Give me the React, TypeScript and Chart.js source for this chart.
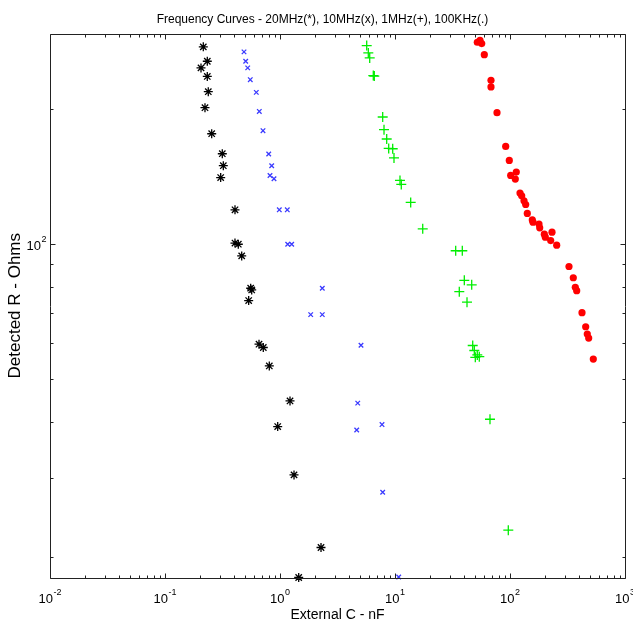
import React, { useEffect, useRef } from 'react';
import { Chart, registerables } from 'chart.js';

Chart.register(...registerables);

// 20 MHz (*)
const c20MHz = [0.2153, 0.2332, 0.2056, 0.2332, 0.2379, 0.2227, 0.2547, 0.3149, 0.3214, 0.3049, 0.4062, 0.406, 0.4339, 0.4645, 0.556, 0.5675, 0.5341, 0.6569, 0.7157, 0.8072, 1.222, 0.955, 1.324, 2.273, 1.454];
const r20MHz = [275.2, 255.6, 247.0, 236.4, 218.6, 201.3, 176.1, 158.9, 149.4, 140.6, 119.1, 100.4, 99.8, 94.0, 79.6, 78.9, 74.7, 59.7, 58.7, 53.4, 44.6, 39.1, 30.5, 21.0, 18.0];

// 10 MHz (x)
const c10MHz = [0.4864, 0.5032, 0.5238, 0.5515, 0.6221, 0.6607, 0.7114, 0.7977, 0.8469, 0.8185, 0.8867, 0.986, 1.157, 1.167, 1.264, 2.332, 1.849, 2.332, 5.062, 4.741, 4.645, 7.709, 7.816, 10.77];
const r10MHz = [268.2, 255.6, 247.0, 232.5, 217.8, 197.5, 178.9, 158.7, 149.4, 142.1, 139.7, 119.1, 119.1, 99.8, 99.8, 79.6, 69.5, 69.5, 59.4, 44.1, 38.4, 39.5, 27.9, 18.05];

// 1 MHz (+)
const c1MHz = [5.675, 5.86, 6.026, 6.475, 6.607, 7.816, 8.025, 8.469, 8.814, 9.55, 9.8, 11.05, 11.34, 13.69, 17.42, 33.71, 38.48, 40.06, 46.45, 36.23, 42.28, 47.4, 48.94, 49.93, 54.08, 51.95, 66.99, 96.65];
const r1MHz = [277.0, 266.8, 260.0, 237.4, 236.8, 191.9, 179.8, 171.4, 163.3, 163.0, 155.5, 138.5, 135.7, 123.7, 108.0, 96.5, 96.5, 82.9, 81.0, 78.2, 74.1, 59.3, 57.8, 55.8, 56.0, 56.5, 40.6, 22.96];

// 100 KHz (.)
const c100KHz = [51.95, 54.83, 56.75, 59.77, 68.35, 68.35, 77.09, 91.74, 98.6, 101.4, 113.4, 111.2, 122.2, 126.4, 132.4, 136.9, 141.4, 156.3, 158.5, 178.7, 181.3, 198.8, 202.8, 231.8, 225.9, 254.7, 325.8, 355.1, 369.7, 380.2, 422.8, 455.2, 470.0, 483.3, 530.1];
const r100KHz = [281.8, 284.7, 279.9, 264.4, 231.7, 224.0, 196.2, 165.0, 153.5, 142.1, 144.6, 139.5, 129.8, 128.0, 124.8, 122.4, 116.9, 113.1, 111.8, 110.7, 108.6, 105.1, 103.5, 106.2, 101.7, 99.3, 89.0, 84.0, 80.0, 78.6, 70.2, 65.3, 62.9, 61.6, 55.3];

// axes
const xMajorTicks = [0.01, 0.1, 1, 10, 100, 1000];
const xTickExponents = ['-2', '-1', '0', '1', '2', '3'];
const yMinorTicks = [20, 30, 40, 50, 60, 70, 80, 90, 200];
const yMajorTicks = [100];
const yTickExponents = ['2'];
const tickBase = '10';
const xMin = 0.01;
const xMax = 1000;
const yMin = 18.0;
const yMax = 294;

const titleText = 'Frequency Curves - 20MHz(*), 10MHz(x), 1MHz(+), 100KHz(.)';
const xTitle = 'External C - nF';
const yTitle = 'Detected R - Ohms';

const FONT = "'Liberation Sans', Arial, sans-serif";

function pts(xs: number[], ys: number[]) {
  return xs.map((x, i) => ({ x, y: ys[i] }));
}

function xAllTicks(): number[] {
  const out: number[] = [];
  for (let i = 0; i < xMajorTicks.length; i++) {
    const m = xMajorTicks[i];
    out.push(m);
    if (i < xMajorTicks.length - 1) {
      for (let k = 2; k <= 9; k++) out.push(m * k);
    }
  }
  return out;
}

function drawPow(ctx: CanvasRenderingContext2D, exp: string, x: number, baseline: number, align: 'center' | 'right') {
  ctx.font = `13px ${FONT}`;
  const wb = ctx.measureText(tickBase).width;
  ctx.font = `9px ${FONT}`;
  const we = ctx.measureText(exp).width;
  const total = wb + we + 0.5;
  const left = align === 'center' ? x - total / 2 : x - total;
  ctx.font = `13px ${FONT}`;
  ctx.fillText(tickBase, left, baseline);
  ctx.font = `9px ${FONT}`;
  ctx.fillText(exp, left + wb + 0.5, baseline - 8);
}

const framePlugin = {
  id: 'matlabFrame',
  afterDatasetsDraw(chart: any) {
    const { ctx, chartArea: a, scales } = chart;
    ctx.save();
    ctx.strokeStyle = '#222';
    ctx.lineWidth = 1;
    ctx.beginPath();
    const L = Math.round(a.left) + 0.5;
    const R = Math.round(a.right) + 0.5;
    const T = Math.round(a.top) + 0.5;
    const B = Math.round(a.bottom) + 0.5;
    ctx.rect(L, T, R - L, B - T);
    const xs = xAllTicks();
    for (const v of xs) {
      const px = Math.round(scales.x.getPixelForValue(v)) + 0.5;
      const len = xMajorTicks.includes(v) ? 5 : 3;
      ctx.moveTo(px, B);
      ctx.lineTo(px, B - len);
      ctx.moveTo(px, T);
      ctx.lineTo(px, T + len);
    }
    const ys = [...yMinorTicks, ...yMajorTicks];
    for (const v of ys) {
      const py = Math.round(scales.y.getPixelForValue(v)) + 0.5;
      const len = yMajorTicks.includes(v) ? 5 : 3;
      ctx.moveTo(L, py);
      ctx.lineTo(L + len, py);
      ctx.moveTo(R, py);
      ctx.lineTo(R - len, py);
    }
    ctx.stroke();

    // tick labels (10 with superscript exponent)
    ctx.fillStyle = '#000';
    ctx.textAlign = 'left';
    ctx.textBaseline = 'alphabetic';
    xMajorTicks.forEach((v, i) => {
      const px = scales.x.getPixelForValue(v);
      drawPow(ctx, xTickExponents[i], px, B + 24, 'center');
    });
    yMajorTicks.forEach((v, i) => {
      const py = scales.y.getPixelForValue(v);
      drawPow(ctx, yTickExponents[i], L - 4, py + 6, 'right');
    });
    ctx.restore();
  },
};

export default function App() {
  const ref = useRef<HTMLCanvasElement | null>(null);

  useEffect(() => {
    if (!ref.current) return;
    const chart = new Chart(ref.current, {
      type: 'scatter',
      data: {
        datasets: [
          {
            label: '20MHz',
            data: pts(c20MHz, r20MHz),
            pointStyle: 'star',
            pointRadius: 4.5,
            borderColor: '#000000',
            backgroundColor: '#000000',
            borderWidth: 1.3,
            clip: false,
          },
          {
            label: '10MHz',
            data: pts(c10MHz, r10MHz),
            pointStyle: 'crossRot',
            pointRadius: 3.2,
            borderColor: '#3a3aff',
            backgroundColor: '#3a3aff',
            borderWidth: 1.3,
            clip: false,
          },
          {
            label: '1MHz',
            data: pts(c1MHz, r1MHz),
            pointStyle: 'cross',
            pointRadius: 5,
            borderColor: '#00ee00',
            backgroundColor: '#00ee00',
            borderWidth: 1.3,
            clip: false,
          },
          {
            label: '100KHz',
            data: pts(c100KHz, r100KHz),
            pointStyle: 'circle',
            pointRadius: 3.6,
            borderColor: '#ff0000',
            backgroundColor: '#ff0000',
            borderWidth: 0,
            clip: false,
          },
        ],
      } as any,
      options: {
        animation: false,
        responsive: false,
        maintainAspectRatio: false,
        events: [],
        layout: { padding: { top: 0, right: 8, left: 20, bottom: 0 } },
        plugins: {
          legend: { display: false },
          tooltip: { enabled: false },
          title: {
            display: true,
            text: titleText,
            color: '#000',
            font: { family: FONT, size: 12, weight: 'normal', lineHeight: 1.2 },
            padding: { top: 12, bottom: 7.6 },
          },
        },
        scales: {
          x: {
            type: 'logarithmic',
            min: xMin,
            max: xMax,
            grid: { display: false, drawTicks: false },
            border: { display: false },
            afterBuildTicks: (s: any) => {
              s.ticks = xMajorTicks.map((v) => ({ value: v, major: true }));
            },
            afterFit: (s: any) => {
              s.height = 46.5;
              s.paddingLeft = 0;
              s.paddingRight = 0;
            },
            ticks: { display: false },
            title: {
              display: true,
              text: xTitle,
              color: '#000',
              font: { family: FONT, size: 14, lineHeight: 1.2 },
              padding: { top: 0, bottom: 0 },
            },
          },
          y: {
            type: 'logarithmic',
            min: yMin,
            max: yMax,
            grid: { display: false, drawTicks: false },
            border: { display: false },
            afterBuildTicks: (s: any) => {
              s.ticks = yMajorTicks.map((v) => ({ value: v, major: true }));
            },
            afterFit: (s: any) => {
              s.width = 30;
              s.paddingTop = 0;
              s.paddingBottom = 0;
            },
            ticks: { display: false },
            title: {
              display: true,
              text: yTitle,
              color: '#000',
              font: { family: FONT, size: 17, lineHeight: 1 },
              padding: { top: -13.5, bottom: 0 },
            },
          },
        },
      } as any,
      plugins: [framePlugin],
    });
    return () => chart.destroy();
  }, []);

  return (
    <div style={{ position: 'absolute', left: 0, top: 0, width: 633, height: 624, background: '#fff' }}>
      <canvas ref={ref} width={633} height={624} style={{ display: 'block' }} />
    </div>
  );
}
